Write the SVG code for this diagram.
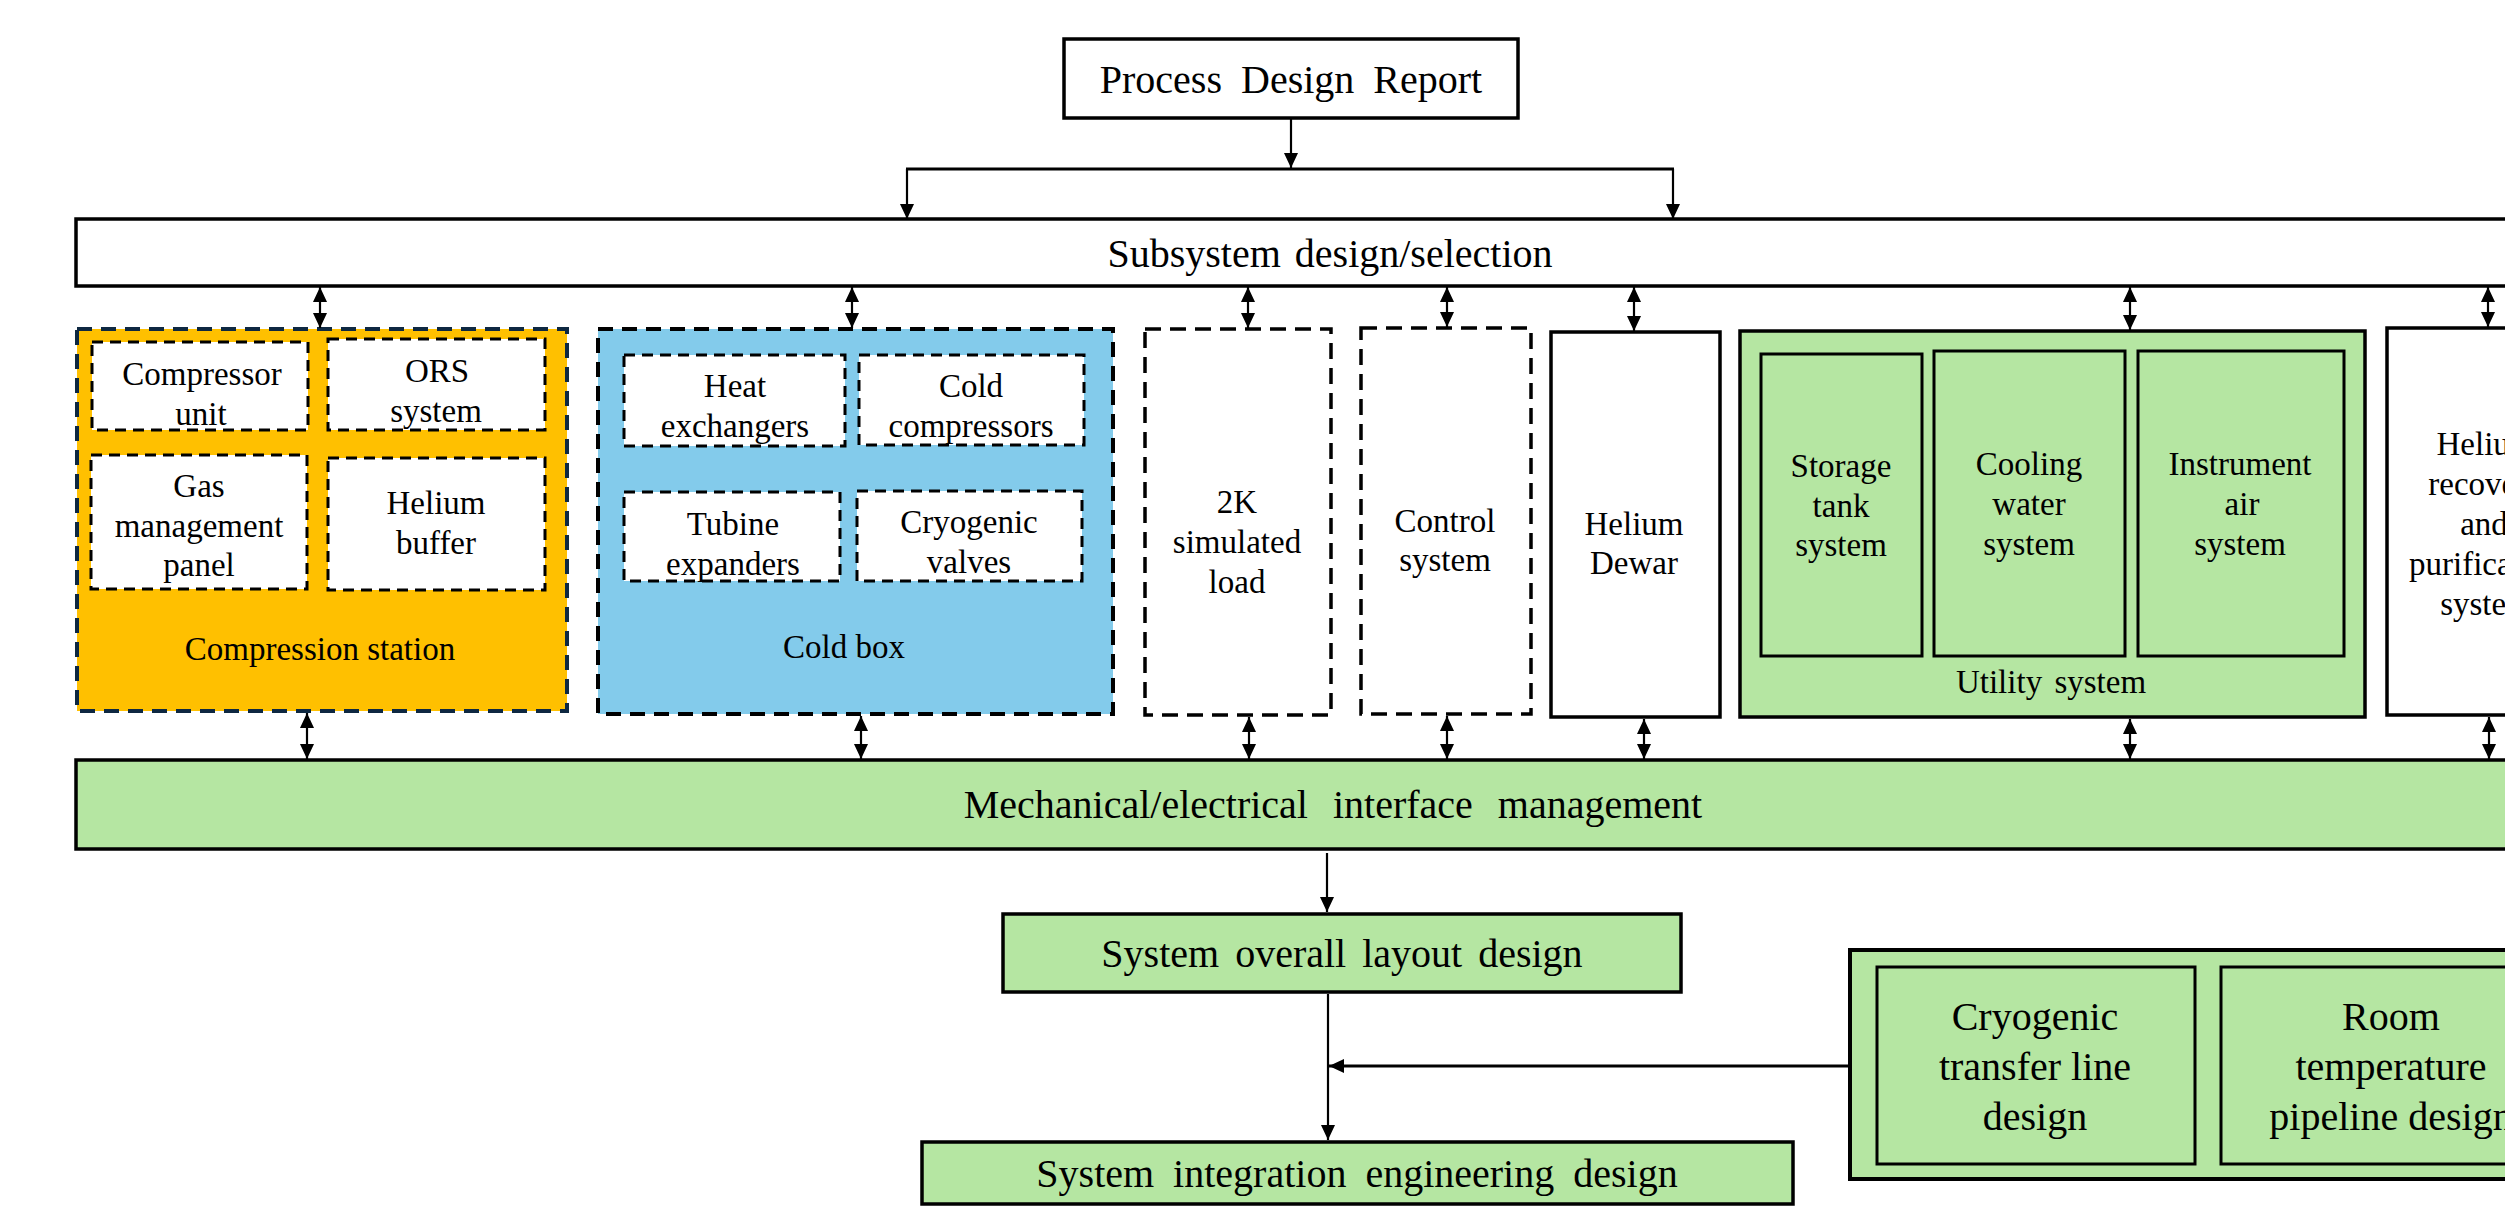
<svg xmlns="http://www.w3.org/2000/svg" width="2505" height="1207" viewBox="0 0 2505 1207">
<defs>
<marker id="ah" viewBox="0 0 15 14" refX="15" refY="7" markerWidth="15" markerHeight="14" orient="auto-start-reverse" markerUnits="userSpaceOnUse">
<path d="M0,0 L15,7 L0,14 z" fill="#000"/>
</marker>
</defs>
<style>
text{font-family:"Liberation Serif","Times New Roman",serif;fill:#000;text-anchor:middle}
.big{font-size:40px}
.sm{font-size:33px}
.md{font-size:40px}
.solid{stroke:#000;stroke-width:3.5}
.thin{stroke:#000;stroke-width:3}
.dash{stroke:#000;stroke-width:3.5;stroke-dasharray:16 9}
.idash{stroke:#000;stroke-width:3;stroke-dasharray:11 7}
.green{fill:#B5E6A2}
.white{fill:#fff}
.con line{stroke:#000;stroke-width:2.2;fill:none}
</style>
<rect width="2505" height="1207" fill="#fff"/>

<g id="report">
<rect x="1064" y="39" width="454" height="79" class="white solid"/>
<text x="1291" y="93" class="big" word-spacing="9">Process Design Report</text>
</g>

<g id="subsystem">
<rect x="76" y="219" width="2500" height="67" class="white solid"/>
<text x="1330" y="267" class="big" word-spacing="4">Subsystem design/selection</text>
</g>

<g id="compression">
<rect x="77" y="329" width="490" height="382" fill="#FFC000" stroke="#0E2841" stroke-width="4" stroke-dasharray="15 9"/>
<g id="compressor-unit">
<rect x="92" y="342" width="216" height="88" class="white idash"/>
<text class="sm" x="202" y="385">Compressor</text>
<text class="sm" x="201" y="425">unit</text>
</g>
<g id="ors">
<rect x="328" y="339" width="217" height="91" class="white idash"/>
<text class="sm" x="437" y="382">ORS</text>
<text class="sm" x="436" y="422">system</text>
</g>
<g id="gas-panel">
<rect x="91" y="455" width="216" height="134" class="white idash"/>
<text class="sm" x="199" y="497">Gas</text>
<text class="sm" x="199" y="537">management</text>
<text class="sm" x="199" y="576">panel</text>
</g>
<g id="helium-buffer">
<rect x="328" y="458" width="217" height="132" class="white idash"/>
<text class="sm" x="436" y="514">Helium</text>
<text class="sm" x="436" y="554">buffer</text>
</g>
<text class="sm" x="320" y="660">Compression station</text>
</g>

<g id="coldbox">
<rect x="598" y="329" width="515" height="385" fill="#83CBEB" stroke="#000" stroke-width="4" stroke-dasharray="15 9"/>
<g id="heat-exchangers">
<rect x="624" y="355" width="221" height="91" class="white idash"/>
<text class="sm" x="735" y="397">Heat</text>
<text class="sm" x="735" y="437">exchangers</text>
</g>
<g id="cold-compressors">
<rect x="859" y="355" width="225" height="90" class="white idash"/>
<text class="sm" x="971" y="397">Cold</text>
<text class="sm" x="971" y="437">compressors</text>
</g>
<g id="turbine-expanders">
<rect x="624" y="492" width="216" height="89" class="white idash"/>
<text class="sm" x="733" y="535">Tubine</text>
<text class="sm" x="733" y="575">expanders</text>
</g>
<g id="cryogenic-valves">
<rect x="857" y="491" width="225" height="90" class="white idash"/>
<text class="sm" x="969" y="533">Cryogenic</text>
<text class="sm" x="969" y="573">valves</text>
</g>
<text class="sm" x="844" y="658">Cold box</text>
</g>

<g id="load2k">
<rect x="1145" y="329" width="186" height="386" class="white dash"/>
<text class="sm" x="1237" y="513">2K</text>
<text class="sm" x="1237" y="553">simulated</text>
<text class="sm" x="1237" y="593">load</text>
</g>

<g id="control">
<rect x="1361" y="328" width="170" height="386" class="white dash"/>
<text class="sm" x="1445" y="532">Control</text>
<text class="sm" x="1445" y="571">system</text>
</g>

<g id="dewar">
<rect x="1551" y="332" width="169" height="385" class="white solid"/>
<text class="sm" x="1634" y="535">Helium</text>
<text class="sm" x="1634" y="574">Dewar</text>
</g>

<g id="utility">
<rect x="1740" y="331" width="625" height="386" class="green solid"/>
<g id="storage-tank">
<rect x="1761" y="354" width="161" height="302" class="green thin"/>
<text class="sm" x="1841" y="477">Storage</text>
<text class="sm" x="1841" y="517">tank</text>
<text class="sm" x="1841" y="556">system</text>
</g>
<g id="cooling-water">
<rect x="1934" y="351" width="191" height="305" class="green thin"/>
<text class="sm" x="2029" y="475">Cooling</text>
<text class="sm" x="2029" y="515">water</text>
<text class="sm" x="2029" y="555">system</text>
</g>
<g id="instrument-air">
<rect x="2138" y="351" width="206" height="305" class="green thin"/>
<text class="sm" x="2240" y="475">Instrument</text>
<text class="sm" x="2242" y="515">air</text>
<text class="sm" x="2240" y="555">system</text>
</g>
<text class="sm" x="2051" y="693" word-spacing="4">Utility system</text>
</g>

<g id="helium-recovery">
<rect x="2387" y="328" width="200" height="387" class="white solid"/>
<text class="sm" x="2486" y="455">Helium</text>
<text class="sm" x="2486" y="495">recovery</text>
<text class="sm" x="2484" y="535">and</text>
<text class="sm" x="2486" y="575">purification</text>
<text class="sm" x="2486" y="615">system</text>
</g>

<g id="interface">
<rect x="76" y="760" width="2500" height="89" class="green solid"/>
<text class="big" x="1333" y="818" word-spacing="15">Mechanical/electrical interface management</text>
</g>

<g id="layout">
<rect x="1003" y="914" width="678" height="78" class="green solid"/>
<text class="big" x="1342" y="967" word-spacing="6">System overall layout design</text>
</g>

<g id="integration">
<rect x="922" y="1142" width="871" height="62" class="green solid"/>
<text class="big" x="1357" y="1187" word-spacing="9">System integration engineering design</text>
</g>

<g id="pipeline">
<rect x="1850" y="950" width="700" height="229" class="green" stroke="#000" stroke-width="4"/>
<g id="cryo-transfer">
<rect x="1877" y="967" width="318" height="197" class="green thin"/>
<text class="md" x="2035" y="1030">Cryogenic</text>
<text class="md" x="2035" y="1080">transfer line</text>
<text class="md" x="2035" y="1130">design</text>
</g>
<g id="room-temp">
<rect x="2221" y="967" width="330" height="197" class="green thin"/>
<text class="md" x="2391" y="1030">Room</text>
<text class="md" x="2391" y="1080">temperature</text>
<text class="md" x="2391" y="1130">pipeline design</text>
</g>
</g>

<g id="connectors" class="con">
<line x1="1291" y1="118" x2="1291" y2="168" marker-end="url(#ah)"/>
<line x1="906" y1="169" x2="1674" y2="169" style="stroke-width:3"/>
<line x1="907" y1="169" x2="907" y2="219" marker-end="url(#ah)"/>
<line x1="1673" y1="169" x2="1673" y2="219" marker-end="url(#ah)"/>

<line x1="320" y1="287" x2="320" y2="328" marker-start="url(#ah)" marker-end="url(#ah)"/>
<line x1="852" y1="287" x2="852" y2="328" marker-start="url(#ah)" marker-end="url(#ah)"/>
<line x1="1248" y1="287" x2="1248" y2="328" marker-start="url(#ah)" marker-end="url(#ah)"/>
<line x1="1447" y1="287" x2="1447" y2="327" marker-start="url(#ah)" marker-end="url(#ah)"/>
<line x1="1634" y1="287" x2="1634" y2="331" marker-start="url(#ah)" marker-end="url(#ah)"/>
<line x1="2130" y1="287" x2="2130" y2="330" marker-start="url(#ah)" marker-end="url(#ah)"/>
<line x1="2488" y1="287" x2="2488" y2="327" marker-start="url(#ah)" marker-end="url(#ah)"/>

<line x1="307" y1="713" x2="307" y2="759" marker-start="url(#ah)" marker-end="url(#ah)"/>
<line x1="861" y1="716" x2="861" y2="759" marker-start="url(#ah)" marker-end="url(#ah)"/>
<line x1="1249" y1="717" x2="1249" y2="759" marker-start="url(#ah)" marker-end="url(#ah)"/>
<line x1="1447" y1="716" x2="1447" y2="759" marker-start="url(#ah)" marker-end="url(#ah)"/>
<line x1="1644" y1="719" x2="1644" y2="759" marker-start="url(#ah)" marker-end="url(#ah)"/>
<line x1="2130" y1="719" x2="2130" y2="759" marker-start="url(#ah)" marker-end="url(#ah)"/>
<line x1="2489" y1="717" x2="2489" y2="759" marker-start="url(#ah)" marker-end="url(#ah)"/>

<line x1="1327" y1="853" x2="1327" y2="912" marker-end="url(#ah)"/>
<line x1="1328" y1="994" x2="1328" y2="1140" marker-end="url(#ah)"/>
<line x1="1848" y1="1066" x2="1329" y2="1066" style="stroke-width:3" marker-end="url(#ah)"/>
</g>
</svg>
